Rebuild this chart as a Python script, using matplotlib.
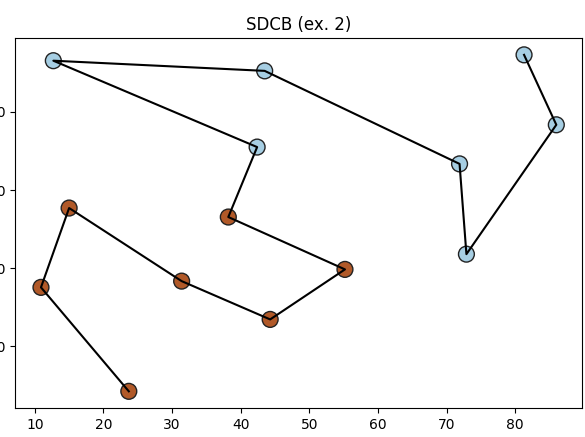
import matplotlib
matplotlib.use('Agg')
import matplotlib.pyplot as plt
import numpy as np

# path of points, in drawing order
xs = [23.7, 10.9, 15.0, 31.4, 44.3, 55.2, 38.2,
      42.4, 12.7, 43.5, 71.9, 72.9, 86.0, 81.3]
ys = [8.5, 35.1, 55.4, 36.7, 26.9, 39.7, 53.1,
      71.0, 93.1, 90.5, 66.7, 43.6, 76.7, 94.6]
labels = [1, 1, 1, 1, 1, 1, 1,
          0, 0, 0, 0, 0, 0, 0]

fig = plt.figure(figsize=(5.85, 4.37), dpi=100)
ax = fig.add_axes([0.026, 0.066, 0.969, 0.847])

ax.scatter(xs, ys, c=labels, cmap='Paired', s=130,
           edgecolors='#222222', linewidths=1)
ax.plot(xs, ys, color='k', linewidth=1.5)
ax.set_title('SDCB (ex. 2)')

fig.savefig('out.png', dpi=100)
